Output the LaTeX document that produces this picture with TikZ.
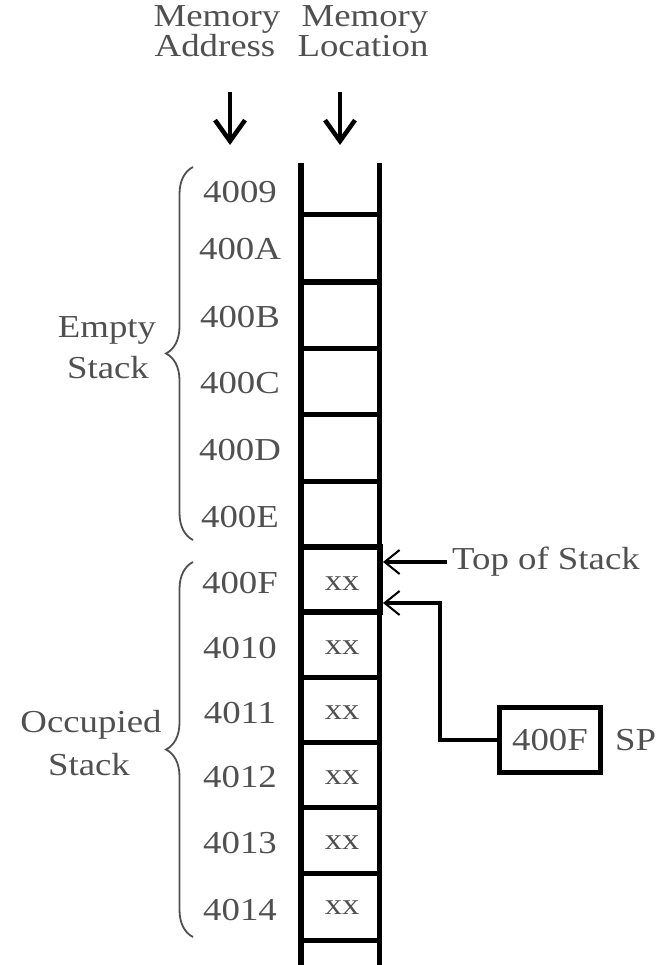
\documentclass[tikz,border=0pt]{standalone}
\usepackage{fontspec}
\setmainfont[FakeStretch=1.15]{Liberation Serif}
\usetikzlibrary{arrows.meta,decorations.pathreplacing}

\definecolor{txt}{HTML}{505050}

\tikzset{
  lbl/.style={inner sep=0pt, text=txt, font=\fontsize{32}{36}\selectfont},
  addr/.style={lbl, anchor=base},
  cell/.style={minimum width=79pt, minimum height=66pt, inner sep=0pt},
  xxcell/.style={cell, text=txt, font=\fontsize{30}{34}\selectfont},
  rail/.style={line width=5.5pt},
  rung/.style={line width=5pt},
  headarrow/.style={line width=4.5pt, -{Straight Barb[length=21pt,width=30pt,line width=4.5pt]}},
  ptr/.style={line width=4.5pt, -{Straight Barb[length=15pt,width=24pt,line width=2pt]}},
  stackbrace/.style={decorate, decoration={brace, amplitude=27pt, aspect=0.5},
                     line width=1.8pt, draw=txt},
}

\begin{document}
\begin{tikzpicture}[x=1pt, y=-1pt]
  \useasboundingbox (0,0) rectangle (659,965);

  % column headings
  \node[addr] (hmem1) at (217,27) {Memory};
  \node[addr] (haddr) at (215,57) {Address};
  \node[addr] (hmem2) at (365,27) {Memory};
  \node[addr] (hloc)  at (363,57) {Location};
  \coordinate (a1s) at (230,92);  \coordinate (a1e) at (230,145);
  \coordinate (a2s) at (340,92);  \coordinate (a2e) at (340,145);
  \draw[headarrow] (a1s) -- (a1e);
  \draw[headarrow] (a2s) -- (a2e);

  % memory column: rails and rungs
  \draw[rail] (301,163) -- (301,965);
  \draw[rail] (379.5,163) -- (379.5,965);
  \foreach \y in {215,282,348,414,481,547,612,677,742,807,873,940}
    \draw[rung] (301,\y) -- (379.5,\y);

  % addresses of the empty part
  \foreach \a/\y in {4009/203, 400A/260, 400B/327, 400C/393, 400D/460, 400E/527}
    \node[addr] (ad\a) at (240,\y) {\a};
  % addresses of the occupied part
  \foreach \a/\y in {400F/593, 4010/658, 4011/723, 4012/787, 4013/853, 4014/920}
    \node[addr] (ad\a) at (240,\y) {\a};

  % occupied cells
  \node[xxcell, draw, line width=6.5pt, minimum height=65pt] (top) at (340.25,579.5) {};
  \foreach \n/\y in {c0F/590, c10/654, c11/719, c12/784, c13/849, c14/914}
    \node[addr, font=\fontsize{30}{34}\selectfont] (\n) at (342,\y) {xx};

  % braces and their labels
  \draw[stackbrace] (193,540) -- (193,167);
  \draw[stackbrace] (193,937) -- (193,562);
  \node[addr] (es1) at (107,337) {Empty};
  \node[addr] (es2) at (108,378) {Stack};
  \node[addr] (os1) at (91,732) {Occupied};
  \node[addr] (os2) at (89,775) {Stack};

  % top of stack pointer
  \node[lbl, anchor=west] (tos) at (452,562) {Top of Stack};
  \coordinate (tip1) at (383,562);
  \draw[ptr] ([xshift=-5pt]tos.west) -- (tip1);

  % stack pointer register
  \node[draw, line width=5pt, minimum width=101pt, minimum height=65pt,
        inner sep=0pt, text=txt, font=\fontsize{32}{36}\selectfont] (sp) at (550,740) {400F};
  \node[lbl, anchor=west] (splbl) at (615,740) {SP};
  \coordinate (elbow) at (440,603);
  \coordinate (tip2) at (383,603);
  \draw[ptr] (sp.west) -| (elbow) -- (tip2);
\end{tikzpicture}
\end{document}
